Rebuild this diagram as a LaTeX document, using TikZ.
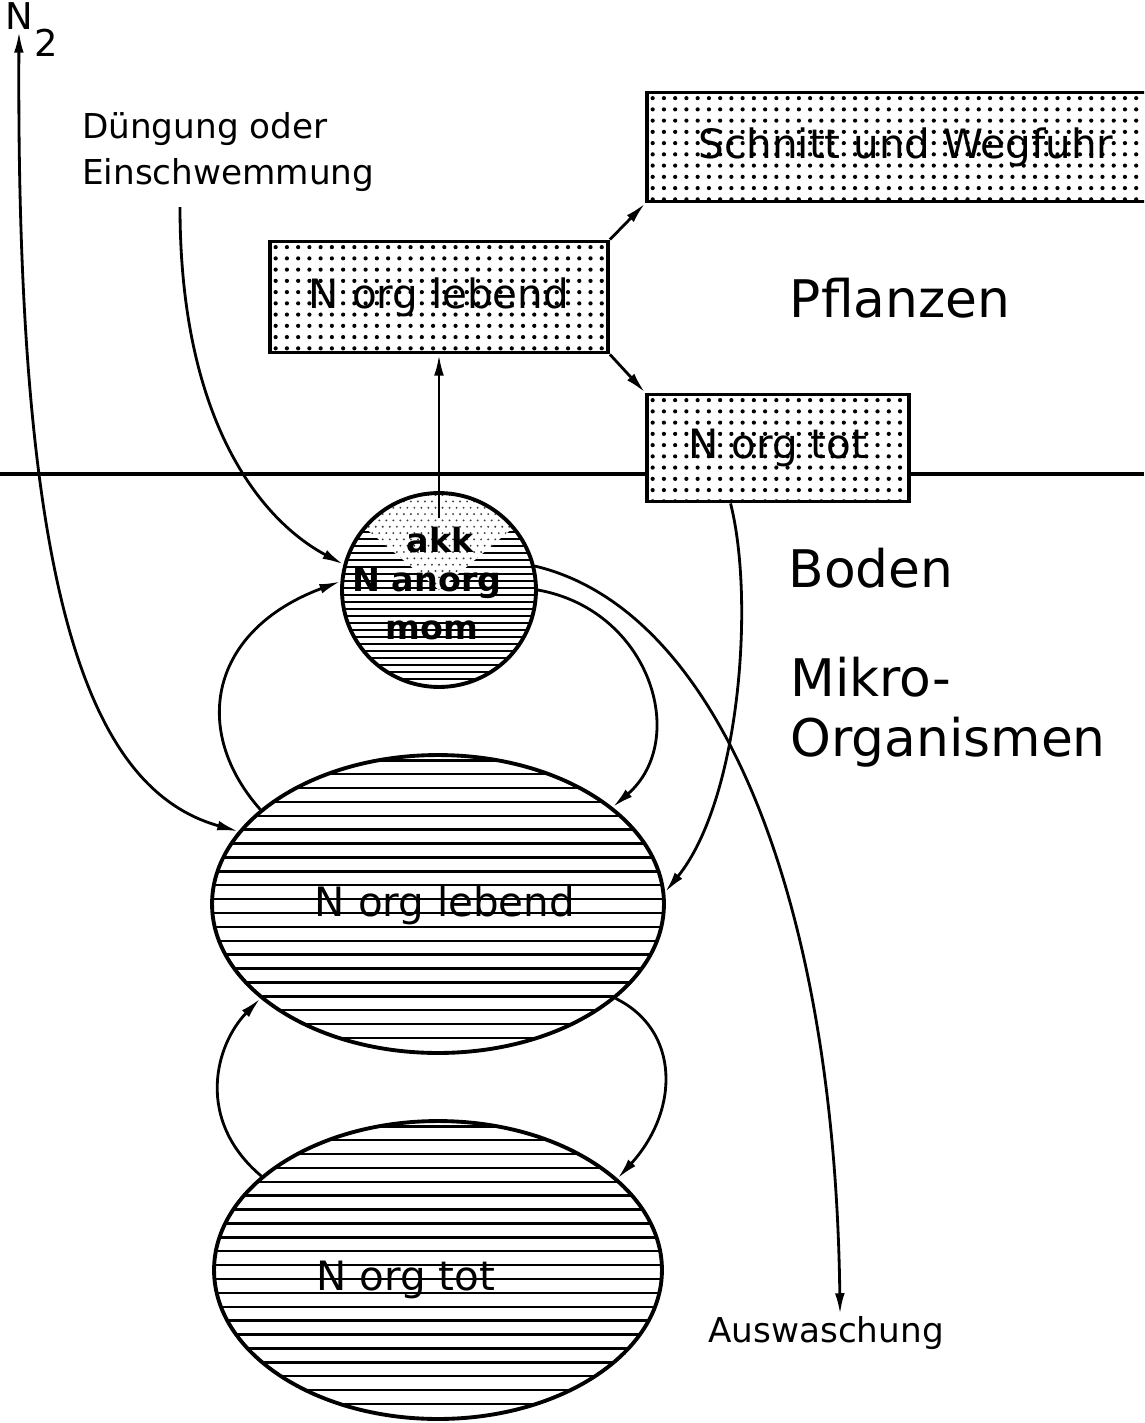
\documentclass[tikz,border=0pt]{standalone}
\usepackage{fontspec}
\setmainfont{DejaVu Sans}
\usetikzlibrary{arrows.meta,shapes.geometric}

\begin{document}
\begin{tikzpicture}[x=0.02cm,y=-0.02cm,>={Latex[length=12pt,width=5.5pt]},
  flow/.style={->,line width=1.6pt},
  lbl/.style={inner sep=1pt,font=\fontsize{19.5}{26.5}\selectfont},
  big/.style={inner sep=0pt,font=\fontsize{29.5}{34}\selectfont},
  inlbl/.style={font=\fontsize{23}{27}\selectfont},
  pool/.style={inner sep=0pt,font=\bfseries\fontsize{19}{22}\selectfont},
  box/.style={draw,line width=2.2pt,fill=white,inner sep=0pt,font=\fontsize{23}{27}\selectfont,
    path picture={\foreach \i in {0,...,46} \foreach \j in {0,...,10}
      \fill[black] ([xshift=\i*6.4pt+3.2pt,yshift=-\j*6.4pt-3.2pt]path picture bounding box.north west) circle (1.2pt);}},
  cell/.style={ellipse,draw,line width=2.2pt,fill=white,inner sep=0pt,
    path picture={\foreach \k in {0,...,24}
      \draw[line width=1.4pt] ([yshift=-\k*7.9pt-3pt]path picture bounding box.north west) -- ([yshift=-\k*7.9pt-3pt]path picture bounding box.north east);}},
  pool circle/.style={circle,draw,line width=2.2pt,fill=white,inner sep=0pt,
    path picture={\foreach \k in {0,...,30}
      \draw[line width=1.1pt] ([yshift=-\k*4pt-2pt]path picture bounding box.north west) -- ([yshift=-\k*4pt-2pt]path picture bounding box.north east);
      \fill[white] (path picture bounding box.center) -- +(140:160pt) -- +(40:160pt) -- cycle;
      \begin{scope}
        \clip (path picture bounding box.center) -- +(140:160pt) -- +(40:160pt) -- cycle;
        \foreach \i in {-16,...,16} \foreach \j in {0,...,16}
          \fill[black!75] ([xshift={\i*4pt+mod(\j,2)*2pt},yshift=\j*3.6pt]path picture bounding box.center) circle (0.6pt);
      \end{scope}}}]
\useasboundingbox (0,0) rectangle (1144,1423);
\clip (0,0) rectangle (1144,1423);
% Grenze Pflanzen / Boden
\draw[line width=1.8pt] (0,474) -- (1144,474);
% Pflanzen
\node[box,minimum width=6.76cm,minimum height=2.22cm] (plebend) at (439,297) {N org lebend};
\node[box,minimum width=10.36cm,minimum height=2.18cm] (schnitt) at (906,147) {Schnitt und Wegfuhr};
\node[box,minimum width=5.24cm,minimum height=2.14cm] (ptot) at (778,448) {N org tot};
% Boden
\node[pool circle,minimum size=3.88cm] (mann) at (439,590) {};
\node[cell,minimum width=9.04cm,minimum height=5.96cm] (mlebend) at (438,904) {};
\node[cell,minimum width=8.96cm,minimum height=5.96cm] (mtot) at (438,1270) {};
\node[pool] (takk) at (440,540) {akk};
\node[pool] (tanorg) at (427,583) {N anorg};
\node[pool] (tmom) at (432,630) {mom};
\node[inlbl] (tlebend) at (445,905) {N org lebend};
\node[inlbl] (ttot) at (406,1280) {N org tot};
% Beschriftung
\node[lbl,font=\fontsize{21}{26}\selectfont] (n2) at (19,16) {N};
\node[lbl,font=\fontsize{21}{26}\selectfont] (two) at (46,43) {2};
\node[lbl,anchor=north west,align=left] (dueng) at (80,110) {Düngung oder\\Einschwemmung};
\coordinate (dstart) at (180,207);
\node[big] (pfl) at (900,298) {Pflanzen};
\node[big] (boden) at (871,568) {Boden};
\node[big,anchor=west,align=left] (mikro) at (790,712) {Mikro-\\Organismen};
\node[lbl] (aus) at (826,1333) {Auswaschung};
% Fluesse
\draw[flow] (plebend.north east) -- (schnitt.south west);
\draw[flow] (plebend.south east) -- (ptot.north west);
\draw[flow] ([yshift=41pt]mann.center) -- (plebend.south);
\draw[flow,<->] (mlebend.160) .. controls (90,790) and (16,600) .. (n2.south);
\draw[flow] (dstart) .. controls (180,420) and (260,520) .. (mann.165);
\draw[flow] (mlebend.152) .. controls (190,730) and (210,630) .. (mann.175);
\draw[flow] (mann.0) .. controls (650,610) and (690,740) .. (mlebend.29);
\draw[flow] (mann.14) .. controls (720,610) and (835,900) .. ([xshift=8pt]aus.north);
\draw[flow] ([xshift=-27pt]ptot.south) .. controls (755,600) and (740,800) .. (mlebend.3);
\draw[flow] (mlebend.-28) .. controls (680,1030) and (680,1110) .. (mtot.27);
\draw[flow] (mtot.152) .. controls (195,1120) and (215,1045) .. (mlebend.208);
\end{tikzpicture}
\end{document}
